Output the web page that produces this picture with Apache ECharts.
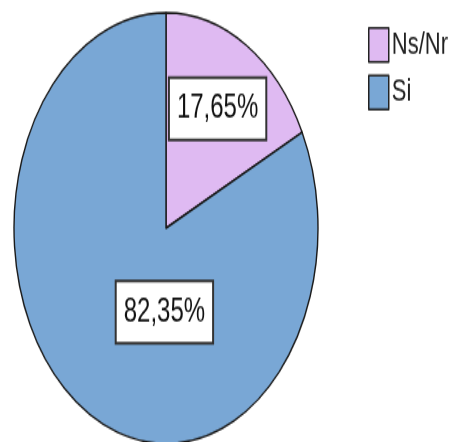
<!DOCTYPE html>
<html>
<head>
<meta charset="utf-8">
<script src="https://cdn.jsdelivr.net/npm/echarts@6/dist/echarts.min.js"></script>
<style>
  html, body { margin: 0; padding: 0; background: #fff; width: 456px; height: 442px; overflow: hidden; }
  #wrap { position: relative; width: 456px; height: 442px; overflow: hidden; background: #fff; }
  /* the original picture is stretched vertically, so the chart is too */
  #chart { position: absolute; left: 0; top: 0; width: 456px; height: 312px; transform: scaleY(1.417); transform-origin: 0 0; }
</style>
</head>
<body>
<div id="wrap"><div id="chart"></div></div>
<script>
var categories = ['Ns/Nr', 'Si'];
var values = [17.65, 82.35];
var colors = ['#dfbaf2', '#79a7d5'];
// label nudges away from the default inside spot
var labelOffsets = [[10, -17], [40, -8]];

var myChart = echarts.init(document.getElementById('chart'));

var option = {
  animation: false,
  textStyle: { fontFamily: 'Liberation Sans, Arial, sans-serif' },
  legend: {
    orient: 'vertical',
    left: 363,
    top: 14,
    icon: 'rect',
    itemWidth: 20,
    itemHeight: 24,
    itemGap: 8,
    itemStyle: { borderColor: '#222', borderWidth: 1.5 },
    textStyle: { fontSize: 22, color: '#222', padding: [0, 0, 0, -2] },
    data: categories
  },
  series: [{
    type: 'pie',
    center: [166, 161],
    radius: 152,
    startAngle: 90,
    clockwise: true,
    silent: true,
    itemStyle: { borderColor: '#1a1a1a', borderWidth: 1.4 },
    label: {
      position: 'inside',
      fontSize: 24,
      color: '#111',
      backgroundColor: '#fff',
      borderColor: '#333',
      borderWidth: 2,
      padding: [9, 7],
      formatter: function (p) {
        return p.value.toFixed(2).replace('.', ',') + '%';
      }
    },
    data: categories.map(function (name, i) {
      return {
        name: name,
        value: values[i],
        itemStyle: { color: colors[i] },
        label: { offset: labelOffsets[i] }
      };
    })
  }]
};

myChart.setOption(option);
</script>
</body>
</html>
